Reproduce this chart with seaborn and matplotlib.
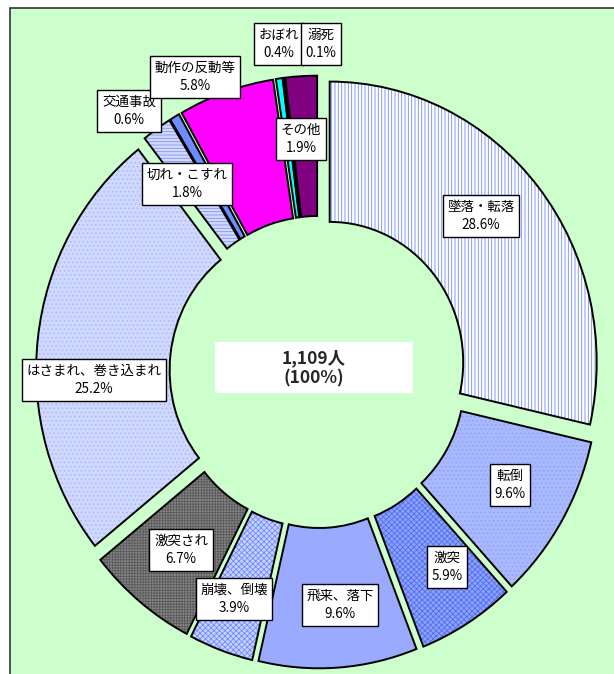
import matplotlib
matplotlib.use("Agg")
import matplotlib.pyplot as plt
from matplotlib.patches import Rectangle
import seaborn as sns

# data (clockwise from 12 o'clock)
categories = ["墜落・転落", "転倒", "激突", "飛来、落下", "崩壊、倒壊", "激突され",
              "はさまれ、巻き込まれ", "切れ・こすれ", "交通事故", "動作の反動等",
              "おぼれ", "溺死", "その他"]
shares = [28.6, 9.6, 5.9, 9.6, 3.9, 6.7, 25.2, 1.8, 0.6, 5.8, 0.4, 0.1, 1.9]
total_people = 1109

# styles
fill_colors = ["#FFFFFF", "#A8B9FF", "#8EA2FA", "#99AAFF", "#C8D2FF", "#858585",
               "#CFD8FF", "#D3DAFF", "#6E8CFF", "#FF00FF", "#00FFFF", "#3333AA", "#800080"]
hatches = ["|||||", "....", "xxxxxx", "", "xxxxxx", "++++++", "....", "-----", "", "", "", "", ""]
hatch_colors = ["#6F88FF", "#8FA2F5", "#4F6EF2", "#99AAFF", "#6F8AFF", "#5A5A5A",
                "#AAB8F5", "#8093F0", "#6E8CFF", "#FF00FF", "#00FFFF", "#3333AA", "#800080"]

# label box centres in pixels (layout only)
label_pos = [(481, 216), (510, 485), (447, 567), (340, 605), (234, 599), (181, 550),
             (94, 380), (187, 184), (129, 111), (195, 77), (279, 44), (321, 44), (301, 139)]

W, H = 614, 674
cx, cy, R, sy = 318, 372, 267, 1.051  # pie centre / radius in px, vertical stretch

sns.set_theme(style="white")
plt.rcParams["font.family"] = ["Noto Sans CJK JP", "DejaVu Sans"]
plt.rcParams["hatch.linewidth"] = 0.6

fig = plt.figure(figsize=(W / 100, H / 100), dpi=100)
fig.patch.set_facecolor("white")

# green chart area
fig.patches.append(Rectangle((10 / W, -0.01), 1.0, (H - 8) / H + 0.01, transform=fig.transFigure,
                             facecolor="#CCFFCC", edgecolor="#333333", lw=1.2, zorder=-5))

ax = fig.add_axes([0, 0, 1, 1])
ax.set_zorder(1)
ax.patch.set_alpha(0)
explode = [0.056] * len(shares)

wedges, _ = ax.pie(shares, startangle=90, counterclock=False, explode=explode,
                   colors=fill_colors, wedgeprops=dict(width=0.5, linewidth=0))
for w, h, hc in zip(wedges, hatches, hatch_colors):
    w.set_hatch(h)
    w.set_edgecolor(hc)
    w.set_linewidth(0)

# outlines
ax.pie(shares, startangle=90, counterclock=False, explode=explode,
       wedgeprops=dict(width=0.5, facecolor="none", edgecolor="black", linewidth=1.4))

ax.set_aspect("auto")
ax.set_xlim(-cx / R, (W - cx) / R)
ax.set_ylim(-(H - cy) / (R * sy), cy / (R * sy))
ax.axis("off")

# labels
for name, val, (px, py) in zip(categories, shares, label_pos):
    fig.text(px / W, 1 - py / H, f"{name}\n{val:.1f}%", ha="center", va="center",
             fontsize=9.7, linespacing=1.35, color="black", zorder=5,
             bbox=dict(boxstyle="square,pad=0.35", facecolor="white", edgecolor="black", lw=1.0))

# centre total
fig.patches.append(Rectangle((215 / W, 1 - 393 / H), 198 / W, 51 / H, transform=fig.transFigure,
                             facecolor="white", edgecolor="none", zorder=4))
fig.text(314 / W, 1 - 368 / H, f"{total_people:,}人\n(100%)", ha="center", va="center",
         fontsize=12.5, fontweight="bold", linespacing=1.15, zorder=5)

fig.savefig("out.png", dpi=100)
